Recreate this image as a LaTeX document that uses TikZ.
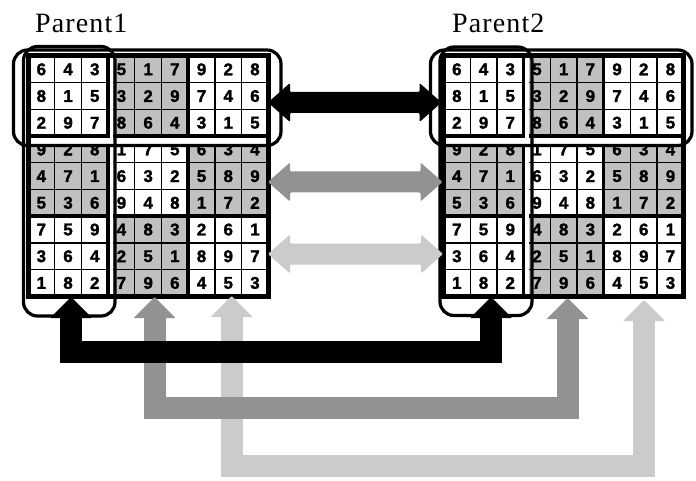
\documentclass[tikz,border=0pt]{standalone}
\usepackage{fontspec}
\setmainfont{Liberation Serif}
\newfontfamily\digitfont[BoldFeatures={FakeBold=1.6}]{Liberation Sans}
\newfontfamily\labelfont[LetterSpace=4]{Liberation Serif}
\usetikzlibrary{calc}
\definecolor{cellgray}{HTML}{C0C0C0}
\definecolor{darkarrow}{HTML}{929292}
\definecolor{lightarrow}{HTML}{CBCBCB}
\def\cs{26.7}
\tikzset{
  digit/.style={font=\digitfont\bfseries\fontsize{17}{18}\selectfont, inner sep=0pt},
  thinline/.style={line width=1.3pt},
  blockline/.style={line width=3.5pt},
  outerline/.style={line width=5pt},
  selbox/.style={draw=black, line width=3.2pt, rounded corners=14pt},
  gapstrip/.style={fill=white},
  label/.style={font=\labelfont\fontsize{28}{30}\selectfont, inner sep=0pt, anchor=base west},
}
\newcommand\drawsudoku[3]{%
  \begin{scope}[shift={(#2,#3)}]
    \fill[cellgray] (3*\cs,0) rectangle (6*\cs,3*\cs);
    \fill[cellgray] (0,3*\cs) rectangle (3*\cs,6*\cs);
    \fill[cellgray] (6*\cs,3*\cs) rectangle (9*\cs,6*\cs);
    \fill[cellgray] (3*\cs,6*\cs) rectangle (6*\cs,9*\cs);
    \foreach \i in {1,2,4,5,7,8} {
      \draw[thinline] (\i*\cs,0) -- (\i*\cs,9*\cs);
      \draw[thinline] (0,\i*\cs) -- (9*\cs,\i*\cs);
    }
    \foreach \i in {3,6} {
      \draw[blockline] (\i*\cs,0) -- (\i*\cs,9*\cs);
      \draw[blockline] (0,\i*\cs) -- (9*\cs,\i*\cs);
    }
    \draw[outerline] (0,0) rectangle (9*\cs,9*\cs);
    \foreach \row [count=\r from 0] in {{6,4,3,5,1,7,9,2,8},{8,1,5,3,2,9,7,4,6},{2,9,7,8,6,4,3,1,5},{9,2,8,1,7,5,6,3,4},{4,7,1,6,3,2,5,8,9},{5,3,6,9,4,8,1,7,2},{7,5,9,4,8,3,2,6,1},{3,6,4,2,5,1,8,9,7},{1,8,2,7,9,6,4,5,3}} {
      \foreach \v [count=\c from 0] in \row {
        \node[digit] (#1-\r-\c) at ({(\c+0.5)*\cs},{(\r+0.5)*\cs}) {\v};
      }
    }
    % white gaps inside the selection boxes
    \fill[gapstrip] (3*\cs+1.75,2.5) rectangle (3*\cs+5.3,9*\cs-2.5);
    \fill[gapstrip] (2.5,3*\cs+1.75) rectangle (9*\cs-2.5,3*\cs+7.8);
  \end{scope}
}
\newcommand\dblarrow[3]{%
  \fill[#1, rounded corners=1.2pt] (#2) -- ($(#2)+(22,-19.5)$) -- ($(#2)+(22,-10.5)$)
    -- ($(#3)+(-22,-10.5)$) -- ($(#3)+(-22,-19.5)$) -- (#3)
    -- ($(#3)+(-22,19.5)$) -- ($(#3)+(-22,10.5)$) -- ($(#2)+(22,10.5)$)
    -- ($(#2)+(22,19.5)$) -- cycle;
}
\newcommand\bentarrow[4]{%
  \draw[#1, line width=22pt] ($(#2)+(0,20.5)$) -- (#2 |- #4) -- (#3 |- #4) -- ($(#3)+(0,20.5)$);
  \fill[#1, rounded corners=0.8pt] (#2) -- ++(-21,21) -- ++(42,0) -- cycle;
  \fill[#1, rounded corners=0.8pt] (#3) -- ++(-21,21) -- ++(42,0) -- cycle;
}
\begin{document}
\begin{tikzpicture}[x=1pt,y=-1pt]
  \useasboundingbox (0,0) rectangle (696,481);
  % labels
  \node[label] (p1) at (35,32.7) {Parent1};
  \node[label] (p2) at (452,33) {Parent2};
  % grids
  \drawsudoku{L}{28}{56}
  \drawsudoku{R}{443.5}{56}
  % selection boxes
  \draw[selbox] (13.5,50) rectangle (281,145.5);
  \draw[selbox] (23.5,46.5) rectangle (115,316);
  \draw[selbox] (430.5,50) rectangle (692,145.5);
  \draw[selbox] (440,47) rectangle (532,315.5);
  % horizontal exchange arrows
  \coordinate (LA) at (268,102.5);  \coordinate (RA) at (441.5,102.5);
  \coordinate (LB) at (268,182);    \coordinate (RB) at (442.5,182);
  \coordinate (LC) at (268,254);    \coordinate (RC) at (443,254);
  \dblarrow{black}{LA}{RA}
  \dblarrow{darkarrow}{LB}{RB}
  \dblarrow{lightarrow}{LC}{RC}
  % bottom arrows
  \coordinate (LD) at (231.5,296);  \coordinate (RD) at (644,300);  \coordinate (barD) at (0,465.5);
  \coordinate (LE) at (154.5,297);  \coordinate (RE) at (567.5,298); \coordinate (barE) at (0,407.5);
  \coordinate (LF) at (71,297);     \coordinate (RF) at (491,297);  \coordinate (barF) at (0,352);
  \bentarrow{lightarrow}{LD}{RD}{barD}
  \bentarrow{darkarrow}{LE}{RE}{barE}
  \bentarrow{black}{LF}{RF}{barF}
\end{tikzpicture}
\end{document}
